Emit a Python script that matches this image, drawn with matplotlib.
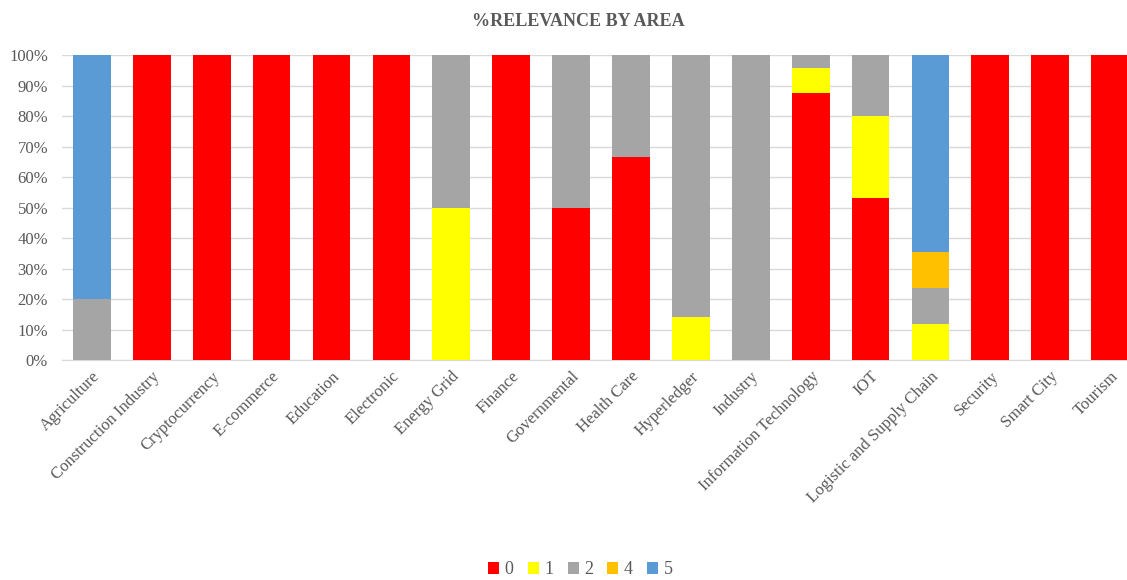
import matplotlib
matplotlib.use("Agg")
import matplotlib.pyplot as plt
import numpy as np

# Daten
areas = ["Agriculture", "Construction Industry", "Cryptocurrency", "E-commerce",
         "Education", "Electronic", "Energy Grid", "Finance", "Governmental",
         "Health Care", "Hyperledger", "Industry", "Information Technology",
         "IOT", "Logistic and Supply Chain", "Security", "Smart City", "Tourism"]

rel_0 = [0, 100, 100, 100, 100, 100, 0, 100, 50, 66.7, 0, 0, 87.5, 53.3, 0, 100, 100, 100]
rel_1 = [0, 0, 0, 0, 0, 0, 50, 0, 0, 0, 14.3, 0, 8.3, 26.7, 11.8, 0, 0, 0]
rel_2 = [20, 0, 0, 0, 0, 0, 50, 0, 50, 33.3, 85.7, 100, 4.2, 20, 11.8, 0, 0, 0]
rel_4 = [0, 0, 0, 0, 0, 0, 0, 0, 0, 0, 0, 0, 0, 0, 11.8, 0, 0, 0]
rel_5 = [80, 0, 0, 0, 0, 0, 0, 0, 0, 0, 0, 0, 0, 0, 64.6, 0, 0, 0]

series = [("0", rel_0, "#ff0000"), ("1", rel_1, "#ffff00"), ("2", rel_2, "#a5a5a5"),
          ("4", rel_4, "#ffc000"), ("5", rel_5, "#5b9bd5")]

plt.rcParams['font.family'] = ['Liberation Serif', 'DejaVu Serif']

fig = plt.figure(figsize=(11.27, 5.8), dpi=100)
ax = fig.add_axes([0.055, 0.379, 0.955, 0.526])

x = np.arange(len(areas))
bottom = np.zeros(len(areas))
for name, vals, col in series:
    ax.bar(x, vals, 0.63, bottom=bottom, color=col, label=name, zorder=3)
    bottom += np.array(vals)

ax.set_ylim(0, 100)
ax.set_xlim(-0.5, 17.47)
ax.set_yticks(np.arange(0, 101, 10))
ax.set_yticklabels([f"{v}%" for v in range(0, 101, 10)], color="#595959", fontsize=12)
ax.set_xticks(x)
ax.set_xticklabels(areas, rotation=45, ha="right", rotation_mode="anchor",
                   color="#595959", fontsize=12)
ax.tick_params(axis="both", length=0)
ax.tick_params(axis="y", pad=10)
ax.tick_params(axis="x", pad=6)
ax.grid(axis="y", color="#d9d9d9", linewidth=1, zorder=0)
for s in ["top", "right", "left"]:
    ax.spines[s].set_visible(False)
ax.spines["bottom"].set_color("#d9d9d9")

fig.suptitle("%RELEVANCE BY AREA", x=0.513, y=0.978, fontsize=13,
             fontweight="bold", color="#595959")

fig.legend(loc="lower center", ncol=5, frameon=False, fontsize=13,
           bbox_to_anchor=(0.515, -0.025), handlelength=0.6, handleheight=0.6,
           handletextpad=0.3, columnspacing=0.8, labelcolor="#595959")

fig.savefig("out.png", dpi=100)
